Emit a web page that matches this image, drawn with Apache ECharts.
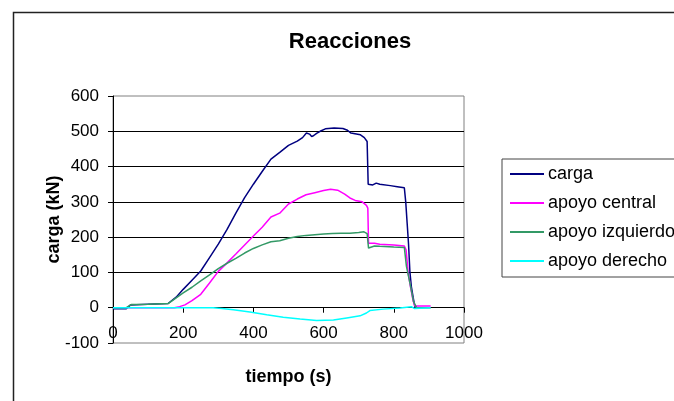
<!DOCTYPE html>
<html>
<head>
<meta charset="utf-8">
<script src="https://cdn.jsdelivr.net/npm/echarts@6/dist/echarts.min.js"></script>
<style>
html,body{margin:0;padding:0;background:#fff;}
#c{width:674px;height:401px;}
</style>
</head>
<body>
<div id="c"></div>
<script>
var titleText = 'Reacciones';
var xName = 'tiempo (s)';
var yName = 'carga (kN)';
var seriesNames = ['carga', 'apoyo central', 'apoyo izquierdo', 'apoyo derecho'];

var carga = [[0,-3],[38,-3],[50,8],[100,10],[157,12],[180,30],[200,52],[225,78],[250,104],[275,142],[300,180],[325,222],[350,268],[375,312],[400,350],[425,386],[450,421],[475,440],[500,460],[525,472],[540,482],[551,495],[560,492],[566,485],[572,488],[580,494],[590,500],[605,507],[630,509],[655,508],[668,503],[678,495],[705,490],[716,482],[724,471],[727,350],[740,348],[750,353],[760,350],[790,346],[810,343],[830,340],[834,300],[838,240],[842,180],[846,100],[850,60],[855,30],[860,3],[866,0]];
var central = [[0,0],[175,0],[190,3],[205,8],[225,20],[250,38],[275,70],[300,103],[325,127],[350,152],[375,178],[400,203],[425,228],[450,257],[475,268],[500,294],[525,308],[550,320],[575,326],[600,332],[620,336],[640,333],[660,322],[675,311],[690,304],[710,300],[722,290],[726,282],[728,183],[745,183],[760,180],[800,178],[830,175],[835,164],[841,98],[848,56],[855,20],[860,5],[905,5]];
var izquierdo = [[0,0],[38,0],[52,9],[100,10],[158,12],[180,28],[200,42],[225,58],[250,76],[275,93],[300,111],[325,126],[350,140],[375,155],[400,168],[425,178],[450,187],[475,190],[500,197],[525,202],[550,205],[575,207],[600,209],[625,210],[650,211],[675,211],[700,213],[715,215],[724,210],[728,169],[745,175],[760,174],[800,172],[830,171],[836,117],[846,70],[856,18],[865,0],[905,0]];
var derecho = [[0,0],[285,0],[310,-2],[343,-6],[390,-12],[438,-20],[485,-27],[533,-32],[580,-36],[628,-35],[666,-29],[704,-23],[722,-15],[732,-8],[770,-4],[818,-1],[850,3],[855,4],[858,-2],[862,0],[905,0]];
var colors = ['#000080', '#FF00FF', '#339966', '#00FFFF'];
var dataList = [carga, central, izquierdo, derecho];

var gridH = 247;
var chart = echarts.init(document.getElementById('c'), null, {renderer: 'canvas'});
var font = 'Arial, "Liberation Sans", sans-serif';
chart.setOption({
  animation: false,
  backgroundColor: '#fff',
  textStyle: {fontFamily: font},
  title: {
    text: titleText,
    left: 345, top: 26, textAlign: 'center',
    textStyle: {fontSize: 22, fontWeight: 'bold', color: '#000', fontFamily: font}
  },
  graphic: [{
    type: 'rect', left: 11, top: 10, z: -1, silent: true,
    shape: {width: 700, height: 420},
    style: {fill: 'none', stroke: '#222', lineWidth: 1.5}
  }],
  legend: {
    orient: 'vertical',
    left: 502, top: 159,
    padding: [6, 12, 7, 8],
    itemGap: 11,
    itemWidth: 34, itemHeight: 2,
    icon: 'rect',
    borderColor: '#444', borderWidth: 1,
    textStyle: {fontSize: 18, color: '#000', fontFamily: font, padding: [0, 0, 0, -1]},
    data: seriesNames
  },
  grid: {
    left: 113, top: 96, width: 351, height: gridH,
    show: true, borderColor: '#808080', borderWidth: 1, backgroundColor: '#fff',
    containLabel: false,
    outerBoundsMode: 'none'
  },
  xAxis: {
    type: 'value', min: 0, max: 1000, interval: 200,
    position: 'bottom',
    offset: -gridH / 7,
    name: xName, nameLocation: 'middle', nameGap: 60, nameMoveOverlap: false,
    nameTextStyle: {fontSize: 18, fontWeight: 'bold', color: '#000', fontFamily: font},
    axisLine: {show: true, onZero: false, lineStyle: {color: '#000', width: 1}},
    axisTick: {show: true, length: 5, lineStyle: {color: '#000'}},
    axisLabel: {fontSize: 17, color: '#000', margin: 17, fontFamily: font,
      formatter: function (v) { return String(v); }},
    splitLine: {show: false}
  },
  yAxis: {
    type: 'value', min: -100, max: 600, interval: 100,
    name: yName, nameLocation: 'middle', nameGap: 50, nameMoveOverlap: false,
    nameTextStyle: {fontSize: 18, fontWeight: 'bold', color: '#000', fontFamily: font},
    axisLine: {show: true, onZero: false, lineStyle: {color: '#000', width: 1}},
    axisTick: {show: true, length: 5, lineStyle: {color: '#000'}},
    axisLabel: {fontSize: 17, color: '#000', margin: 14, fontFamily: font},
    splitLine: {show: true, showMinLine: false, showMaxLine: false, lineStyle: {color: '#000', width: 1}}
  },
  series: seriesNames.map(function (n, i) {
    return {
      name: n, type: 'line', data: dataList[i],
      showSymbol: false, symbol: 'none',
      color: colors[i],
      lineStyle: {color: colors[i], width: 1.5},
      z: 2 + i
    };
  })
});
</script>
</body>
</html>
